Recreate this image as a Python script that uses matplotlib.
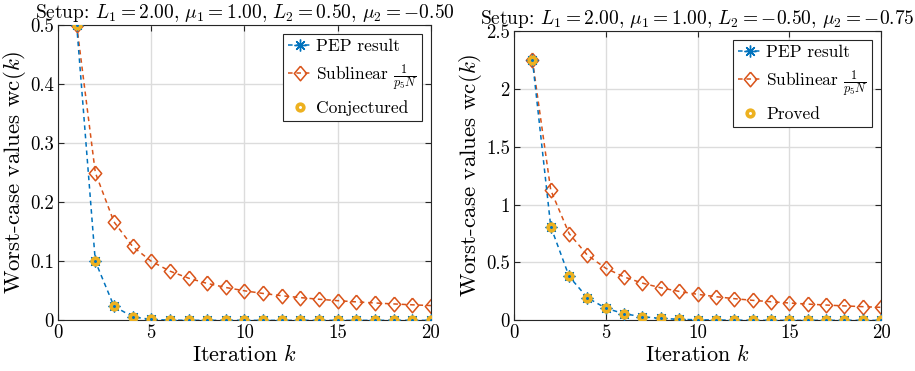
import numpy as np
import matplotlib
matplotlib.use("Agg")
from matplotlib import pyplot as plt

plt.rcParams['font.family'] = 'serif'
plt.rcParams['font.serif'] = ['cmr10']
plt.rcParams['mathtext.fontset'] = 'cm'
plt.rcParams['axes.formatter.use_mathtext'] = True

blue = '#0072BD'
orange = '#D95319'
yellow = '#EDB120'

k = list(range(1, 21))

# left panel: L1=2, mu1=1, L2=0.5, mu2=-0.5
pep_left = [0.5, 0.1, 0.024, 0.006, 0.0015, 0.0004, 0.0001, 0.00003, 0.00001, 0.0,
            0.0, 0.0, 0.0, 0.0, 0.0, 0.0, 0.0, 0.0, 0.0, 0.0]
sub_left = [0.5, 0.25, 0.1667, 0.125, 0.1, 0.0833, 0.0714, 0.0625, 0.0556, 0.05,
            0.0455, 0.0417, 0.0385, 0.0357, 0.0333, 0.0313, 0.0294, 0.0278, 0.0263, 0.025]

# right panel: L1=2, mu1=1, L2=-0.5, mu2=-0.75
pep_right = [2.25, 0.81, 0.38, 0.195, 0.105, 0.057, 0.031, 0.017, 0.009, 0.005,
             0.003, 0.0016, 0.0009, 0.0005, 0.0003, 0.0002, 0.0001, 0.0, 0.0, 0.0]
sub_right = [2.25, 1.125, 0.75, 0.5625, 0.45, 0.375, 0.3214, 0.2813, 0.25, 0.225,
             0.2045, 0.1875, 0.1731, 0.1607, 0.15, 0.1406, 0.1324, 0.125, 0.1184, 0.1125]

titles = [r'Setup: $L_1 = 2.00,\, \mu_1 = 1.00,\, L_2 = 0.50,\, \mu_2 = -0.50$',
          r'Setup: $L_1 = 2.00,\, \mu_1 = 1.00,\, L_2 = -0.50,\, \mu_2 = -0.75$']
third_labels = ['Conjectured', 'Proved']
yticks_list = [[0, 0.1, 0.2, 0.3, 0.4, 0.5], [0, 0.5, 1, 1.5, 2, 2.5]]
yticklabels_list = [['0', '0.1', '0.2', '0.3', '0.4', '0.5'], ['0', '0.5', '1', '1.5', '2', '2.5']]

# matlab-like diamond, a bit taller than wide
diamond = [(0, 1), (0.85, 0), (0, -1), (-0.85, 0), (0, 1)]

fig = plt.figure(figsize=(9.15, 3.71), dpi=100)
ax1 = fig.add_axes([0.0634, 0.1365, 0.4076, 0.7965])
ax2 = fig.add_axes([0.5618, 0.1365, 0.4011, 0.7800])

panels = [(ax1, pep_left, sub_left), (ax2, pep_right, sub_right)]
for i, (ax, pep, sub) in enumerate(panels):
    ax.plot(k, pep, '--', color=blue, marker=(8, 2, 0), ms=8.5, mew=1.0, lw=1.1,
            dashes=(3, 2.5), label='PEP result', zorder=3)
    ax.plot(k, sub, '--', color=orange, marker=diamond, ms=10.5, mfc='none', mew=1.1, lw=1.1,
            dashes=(3, 2.5), label=r'Sublinear $\frac{1}{p_5 N}$', zorder=2)
    ax.plot(k, pep, ls='none', marker='o', ms=4.8, mfc='none', mec=yellow, mew=2.6,
            label=third_labels[i], zorder=4)
    ax.set_xlim(0, 20)
    ax.set_ylim(yticks_list[i][0], yticks_list[i][-1])
    ax.set_xticks([0, 5, 10, 15, 20])
    ax.set_xticklabels(['0', '5', '10', '15', '20'])
    ax.set_yticks(yticks_list[i])
    ax.set_yticklabels(yticklabels_list[i])
    ax.grid(True, color='#dcdcdc', lw=1.0)
    ax.set_axisbelow(True)
    ax.tick_params(direction='in', labelsize=13.5, length=4, color='#262626',
                   top=True, right=True, pad=3)
    for sp in ax.spines.values():
        sp.set_color('#262626')
        sp.set_linewidth(0.8)
    ax.set_xlabel(r'Iteration $k$', fontsize=16, labelpad=1)
    ax.set_ylabel(r'Worst-case values wc$(k)$', fontsize=16.5, labelpad=1)
    ax.set_title(titles[i], fontsize=14, pad=5)
    leg = ax.legend(loc='upper right', fontsize=12.5, fancybox=False, framealpha=1,
                    edgecolor='#262626', handlelength=1.3, handletextpad=0.3,
                    labelspacing=0.45, borderpad=0.3, borderaxespad=0.5)
    leg.get_frame().set_linewidth(0.8)

fig.savefig('out.png', dpi=100)
